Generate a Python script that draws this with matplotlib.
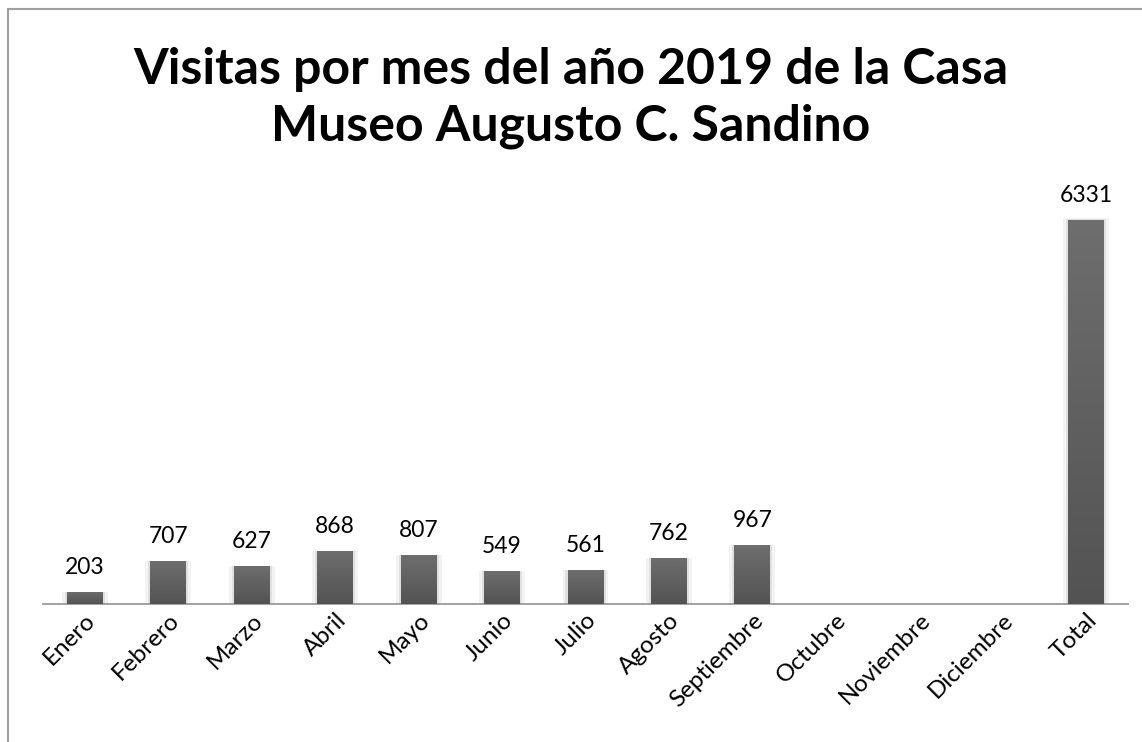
import matplotlib.pyplot as plt
import numpy as np
from matplotlib.patches import Rectangle
from matplotlib.colors import LinearSegmentedColormap
from matplotlib.transforms import ScaledTranslation

meses = ['Enero', 'Febrero', 'Marzo', 'Abril', 'Mayo', 'Junio', 'Julio',
         'Agosto', 'Septiembre', 'Octubre', 'Noviembre', 'Diciembre', 'Total']
visitas = [203, 707, 627, 868, 807, 549, 561, 762, 967, None, None, None, 6331]
titulo = 'Visitas por mes del año 2019 de la Casa\nMuseo Augusto C. Sandino'

plt.rcParams['font.family'] = ['Lato', 'DejaVu Sans']

fig = plt.figure(figsize=(11.42, 7.42), dpi=100)
W, H = 1142, 742
# axes in pixel coords: left 43, right 1128, top 179, bottom 604
ax = fig.add_axes([43 / W, 1 - 604 / H, (1128 - 43) / W, (604 - 179) / H])

# outer chart border (cut off at right / bottom like the reference)
fig.patches.append(Rectangle((8 / W, -0.1), 1.2, 1 - 9 / H + 0.1,
                             transform=fig.transFigure, fill=False,
                             edgecolor='#a0a0a0', linewidth=1.5))

x = np.arange(len(meses))
ancho = 0.43
grad = np.linspace(0, 1, 256).reshape(-1, 1)
cmap = LinearSegmentedColormap.from_list('g', ['#535353', '#6e6e6e'])
for xi, v in zip(x, visitas):
    if v is None:
        continue
    # soft shadow
    ax.bar(xi, v * 1.004, width=ancho + 0.12, color='#f3f3f3', zorder=1)
    ax.bar(xi, v * 1.002, width=ancho + 0.05, color='#e0e0e0', zorder=1.5)
    bar = ax.bar(xi, v, width=ancho, color='#606060', zorder=2)[0]
    im = ax.imshow(grad, cmap=cmap, origin='lower', aspect='auto',
                   extent=[xi - ancho / 2, xi + ancho / 2, 0, v], zorder=3)
    im.set_clip_path(bar)
    ax.text(xi, v + 230, str(v), ha='center', va='bottom', fontsize=16.5)

ax.set_xlim(-0.5, len(meses) - 0.5)
ax.set_ylim(0, 7000)
ax.set_xticks(x)
ax.set_xticklabels(meses, rotation=45, ha='right', rotation_mode='anchor',
                   fontsize=17.5)
desplaza = ScaledTranslation(-6 / 100, -2 / 100, fig.dpi_scale_trans)
for lbl in ax.get_xticklabels():
    lbl.set_transform(lbl.get_transform() + desplaza)
ax.tick_params(axis='x', length=0, pad=4)
ax.set_yticks([])
for s in ['top', 'right', 'left']:
    ax.spines[s].set_visible(False)
ax.spines['bottom'].set_color('#9a9a9a')
ax.spines['bottom'].set_linewidth(1.3)

fig.text(0.5, 1 - 98 / H, titulo, ha='center', va='center', fontsize=36,
         fontweight='bold', linespacing=1.3)

fig.savefig('out.png', dpi=100)
